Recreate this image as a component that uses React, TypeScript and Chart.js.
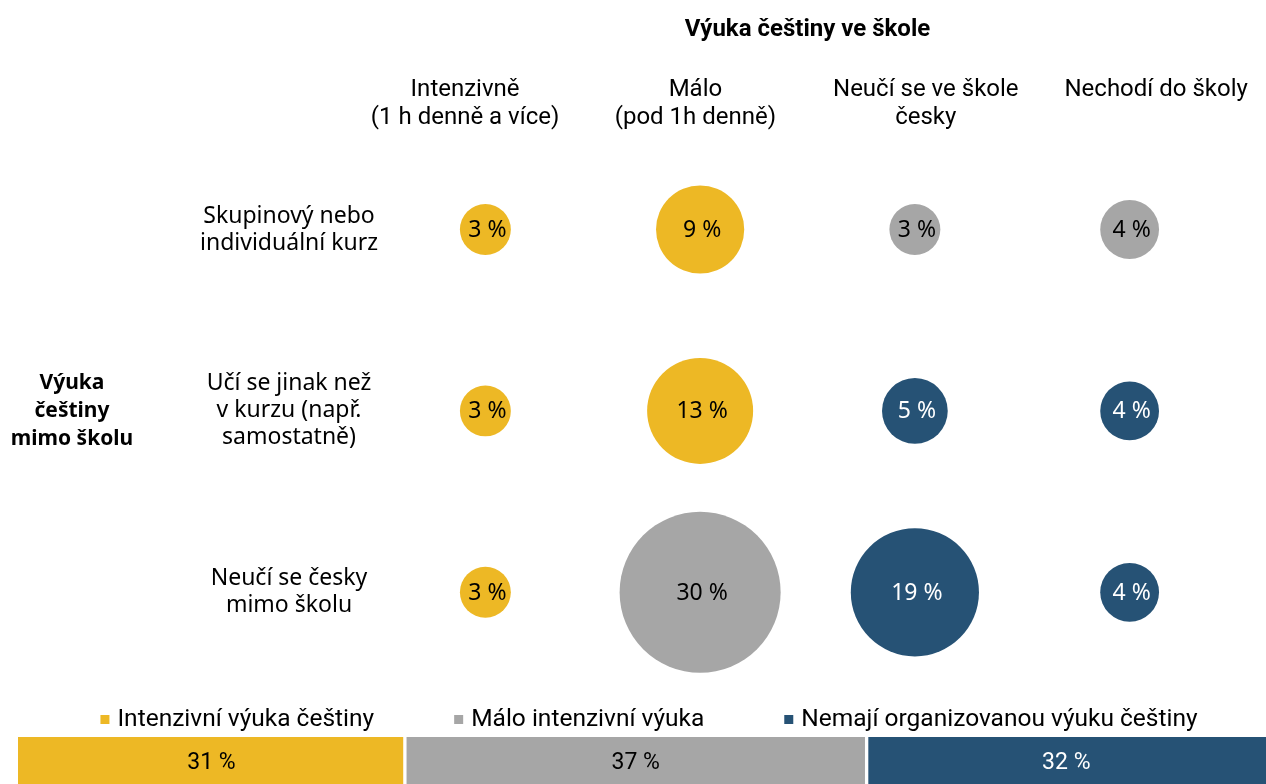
import React, { useEffect, useRef } from "react";
import { Chart, registerables } from "chart.js";

Chart.register(...registerables);

// ---------- data ----------
const columnTitle = "Výuka češtiny ve škole";
const rowTitle = ["Výuka", "češtiny", "mimo školu"];

const columnLabels = [
  ["Intenzivně", "(1 h denně a více)"],
  ["Málo", "(pod 1h denně)"],
  ["Neučí se ve škole", "česky"],
  ["Nechodí do školy"],
];

const rowLabels = [
  ["Skupinový nebo", "individuální kurz"],
  ["Učí se jinak než", "v kurzu (např.", "samostatně)"],
  ["Neučí se česky", "mimo školu"],
];

// values (%) per row, one per column
const rowCourse = [3, 9, 3, 4];
const rowOtherWay = [3, 13, 5, 4];
const rowNotOutside = [3, 30, 19, 4];

// group index of every cell (0 = intensive, 1 = little, 2 = none)
const groupCourse = [0, 0, 1, 1];
const groupOtherWay = [0, 0, 2, 2];
const groupNotOutside = [0, 1, 2, 2];

const groupNames = [
  "Intenzivní výuka češtiny",
  "Málo intenzivní výuka",
  "Nemají organizovanou výuku češtiny",
];
const groupTotals = [31, 37, 32];

// ---------- styles ----------
const groupColors = ["#EDB825", "#A6A6A6", "#265275"];
const groupTextColors = ["#000000", "#000000", "#FFFFFF"];
const BUBBLE_SCALE = 14.7; // radius = scale * sqrt(value)
// header axis range (headers are spaced a little wider than the bubble columns)
const HEADER_MIN = -0.378;
const HEADER_MAX = 3.351;

const rowValues = [rowCourse, rowOtherWay, rowNotOutside];
const rowGroups = [groupCourse, groupOtherWay, groupNotOutside];

function buildBubbleDatasets() {
  return groupNames.map((name, g) => {
    const pts: any[] = [];
    rowValues.forEach((vals, r) => {
      vals.forEach((v, c) => {
        if (rowGroups[r][c] === g) {
          pts.push({ x: c, y: r, r: BUBBLE_SCALE * Math.sqrt(v), v });
        }
      });
    });
    return {
      label: name,
      data: pts,
      backgroundColor: groupColors[g],
      borderWidth: 0,
      hoverRadius: 0,
      clip: false as any,
    };
  });
}

const bubbleLabelPlugin = {
  id: "bubbleLabels",
  afterDatasetsDraw(chart: any) {
    const ctx = chart.ctx;
    ctx.save();
    ctx.font = '23px "Noto Sans"';
    ctx.textAlign = "center";
    ctx.textBaseline = "middle";
    chart.data.datasets.forEach((ds: any, di: number) => {
      const meta = chart.getDatasetMeta(di);
      meta.data.forEach((el: any, i: number) => {
        ctx.fillStyle = groupTextColors[di];
        ctx.fillText(ds.data[i].v + " %", el.x + 2, el.y + 1);
      });
    });
    ctx.restore();
  },
};

const rowTitlePlugin = {
  id: "rowTitle",
  afterDraw(chart: any) {
    const ctx = chart.ctx;
    const yScale = chart.scales.y;
    const cy = yScale.getPixelForValue(1);
    const lh = 28;
    ctx.save();
    ctx.font = 'bold 21px "Noto Sans"';
    ctx.fillStyle = "#000";
    ctx.textAlign = "center";
    ctx.textBaseline = "middle";
    rowTitle.forEach((t, i) => {
      ctx.fillText(t, 72, cy + (i - (rowTitle.length - 1) / 2) * lh);
    });
    ctx.restore();
  },
};

const barLabelPlugin = {
  id: "barLabels",
  afterDatasetsDraw(chart: any) {
    const ctx = chart.ctx;
    ctx.save();
    ctx.font = '23px Roboto';
    ctx.textAlign = "center";
    ctx.textBaseline = "middle";
    chart.data.datasets.forEach((ds: any, di: number) => {
      const meta = chart.getDatasetMeta(di);
      meta.data.forEach((el: any, i: number) => {
        const p = el.getCenterPoint();
        ctx.fillStyle = groupTextColors[di];
        ctx.fillText(ds.data[i] + " %", p.x, p.y + 3);
      });
    });
    ctx.restore();
  },
};

const bottomLegendPlugin = {
  id: "bottomLegend",
  afterDraw(chart: any) {
    const ctx = chart.ctx;
    const { left, right, top } = chart.chartArea;
    const box = 9;
    const textGap = 8;
    const itemGap = 80;
    ctx.save();
    ctx.font = '24.5px Roboto';
    ctx.textBaseline = "middle";
    ctx.textAlign = "left";
    const items = chart.data.datasets.map((ds: any) => ({
      text: ds.label,
      color: ds.backgroundColor,
      w: box + textGap + ctx.measureText(ds.label).width,
    }));
    const total =
      items.reduce((s: number, it: any) => s + it.w, 0) + itemGap * (items.length - 1);
    let x = (left + right) / 2 - total / 2 + 7;
    const y = top / 2 + 1;
    items.forEach((it: any) => {
      ctx.fillStyle = it.color;
      ctx.fillRect(x, y - box / 2, box, box);
      ctx.fillStyle = "#000";
      ctx.fillText(it.text, x + box + textGap, y);
      x += it.w + itemGap;
    });
    ctx.restore();
  },
};

export default function App() {
  const bubbleRef = useRef<HTMLCanvasElement>(null);
  const barRef = useRef<HTMLCanvasElement>(null);

  useEffect(() => {
    const bubble = new Chart(bubbleRef.current!, {
      type: "bubble",
      data: { datasets: buildBubbleDatasets() as any },
      options: {
        responsive: false,
        animation: false,
        events: [],
        layout: { autoPadding: false, padding: { left: 0, right: 29, top: 0, bottom: 0 } },
        plugins: {
          legend: { display: false },
          tooltip: { enabled: false },
          title: {
            display: true,
            text: columnTitle,
            fullSize: false,
            color: "#000",
            font: { family: "Roboto", size: 24, weight: "bold", lineHeight: 1.2 },
            padding: { top: 16, bottom: 6 },
          },
        },
        scales: {
          x: {
            type: "linear",
            position: "top",
            min: -0.5,
            max: 3.5,
            display: false,
          },
          header: {
            type: "linear",
            axis: "x",
            position: "top",
            min: HEADER_MIN,
            max: HEADER_MAX,
            grid: { display: false, drawTicks: false },
            border: { display: false },
            afterBuildTicks: (s: any) => {
              s.ticks = columnLabels.map((_, i) => ({ value: i }));
            },
            afterFit: (s: any) => {
              s.height = 88;
            },
            ticks: {
              autoSkip: false,
              maxRotation: 0,
              crossAlign: "far",
              padding: 7,
              color: "#000",
              font: { family: "Roboto", size: 24, lineHeight: "28px" },
              callback: (v: any) => columnLabels[v] as any,
            },
          },
          y: {
            type: "linear",
            reverse: true,
            min: -0.5,
            max: 2.5,
            grid: { display: false, drawTicks: false },
            border: { display: false },
            afterBuildTicks: (s: any) => {
              s.ticks = rowLabels.map((_, i) => ({ value: i }));
            },
            afterFit: (s: any) => {
              s.width = 378;
            },
            ticks: {
              autoSkip: false,
              crossAlign: "center",
              padding: 0,
              color: "#000",
              font: { family: "Noto Sans", size: 23, lineHeight: "27px" },
              callback: (v: any) => rowLabels[v] as any,
            },
          },
        },
      } as any,
      plugins: [bubbleLabelPlugin, rowTitlePlugin],
    });

    const bar = new Chart(barRef.current!, {
      type: "bar",
      data: {
        labels: [""],
        datasets: groupNames.map((name, g) => ({
          label: name,
          data: [groupTotals[g]],
          backgroundColor: groupColors[g],
          borderColor: "#FFFFFF",
          borderWidth: {
            left: g === 0 ? 0 : 2,
            right: g === groupNames.length - 1 ? 0 : 2,
            top: 0,
            bottom: 0,
          },
          borderSkipped: false,
          barPercentage: 1,
          categoryPercentage: 1,
        })),
      },
      options: {
        indexAxis: "y",
        responsive: false,
        animation: false,
        events: [],
        layout: { autoPadding: false, padding: { left: 18, right: 0, top: 37, bottom: 0 } },
        plugins: { legend: { display: false }, tooltip: { enabled: false } },
        scales: {
          x: { stacked: true, min: 0, max: 100, display: false },
          y: { stacked: true, display: false },
        },
      } as any,
      plugins: [barLabelPlugin, bottomLegendPlugin],
    });

    return () => {
      bubble.destroy();
      bar.destroy();
    };
  }, []);

  return (
    <div
      style={{
        position: "absolute",
        left: 0,
        top: 0,
        width: 1266,
        height: 784,
        background: "#fff",
        overflow: "hidden",
      }}
    >
      <canvas
        ref={bubbleRef}
        width={1266}
        height={710}
        style={{ position: "absolute", left: 0, top: 0, width: 1266, height: 710 }}
      />
      <canvas
        ref={barRef}
        width={1266}
        height={84}
        style={{ position: "absolute", left: 0, top: 700, width: 1266, height: 84 }}
      />
    </div>
  );
}
